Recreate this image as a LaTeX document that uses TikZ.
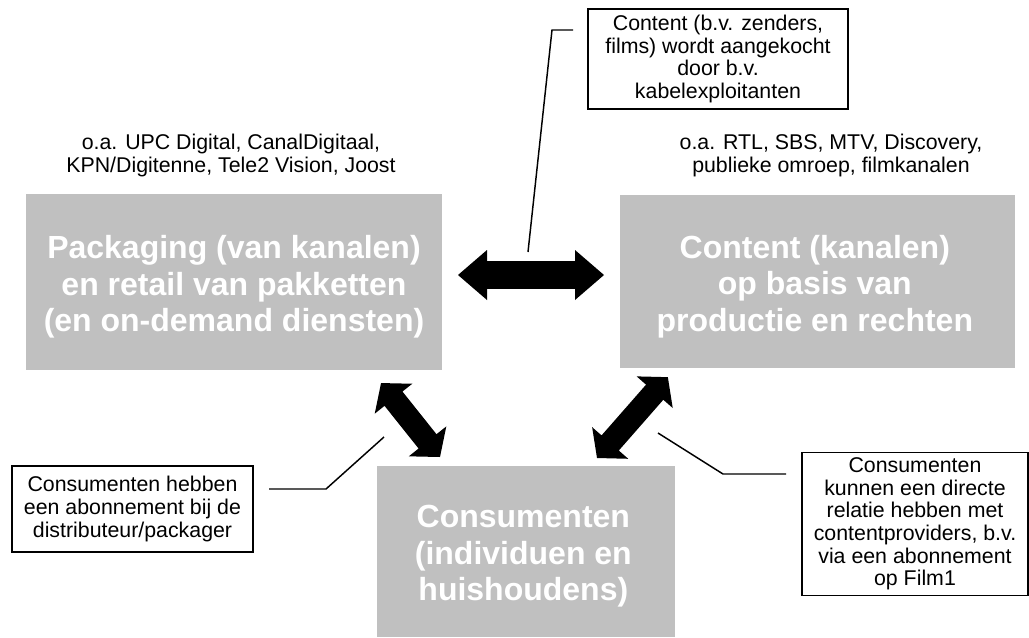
\documentclass[tikz,border=0pt]{standalone}
\usepackage{fontspec}
\setmainfont{Liberation Sans}
\usetikzlibrary{calc}
\definecolor{boxgray}{RGB}{192,192,192}
% block double arrow from #1 to #2 (tip to tip); #3 shaft half width, #4 head half width, #5 head length (pt)
\newcommand{\blockarrow}[5]{%
  \path let \p1=(#1), \p2=(#2), \n1={atan2(\y2-\y1,\x2-\x1)}, \n2={veclen(\x2-\x1,\y2-\y1)} in
    \pgfextra{\xdef\baang{\n1}\xdef\balen{\n2}\xdef\bax{\x1}\xdef\bay{\y1}};
  \begin{scope}[shift={(\bax,\bay)}, rotate=\baang, x=1pt, y=1pt]
    \fill[blockfill] (0,0) -- (#5,#4) -- (#5,#3) -- ({\balen-#5},#3) -- ({\balen-#5},#4) -- (\balen,0)
      -- ({\balen-#5},-#4) -- ({\balen-#5},-#3) -- (#5,-#3) -- (#5,-#4) -- cycle;
  \end{scope}}
\tikzset{
  bigbox/.style={fill=boxgray, inner sep=0pt},
  bigtext/.style={text=white, font=\fontsize{24}{27.3}\selectfont\bfseries, align=center, inner sep=0pt, yshift=-3.75pt},
  callout/.style={draw=black, line width=1.3pt, fill=white, font=\fontsize{16}{17}\selectfont, align=center, inner sep=0pt},
  infotext/.style={font=\fontsize{16}{17.3}\selectfont, align=center, inner sep=0pt},
  leader/.style={line width=1.1pt, black},
  blockfill/.style={fill=black}
}
\begin{document}
\begin{tikzpicture}[x=0.75pt, y=-0.75pt]
\useasboundingbox[fill=white] (0,0) rectangle (1029,637);

% main boxes
\node[bigbox, minimum width=312pt, minimum height=132pt,
  label={[bigtext]center:{Packaging (van kanalen)\\en retail van pakketten\\(en on-demand diensten)}}] (pack) at (234,282) {};
\node[bigbox, minimum width=296.25pt, minimum height=129.75pt,
  label={[bigtext, xshift=-2pt]center:{Content (kanalen)\\op basis van\\productie en rechten}}] (cont) at (817.5,281.5) {};
\node[bigbox, minimum width=223.5pt, minimum height=128.25pt,
  label={[bigtext, xshift=-2pt]center:{Consumenten\\(individuen en\\huishoudens)}}] (cons) at (526,551.5) {};

% texts above boxes
\node[infotext] (lab1) at (231,155.5) {o.a. UPC Digital, CanalDigitaal,\\KPN/Digitenne, Tele2 Vision, Joost};
\node[infotext] (lab2) at (831,155.5) {o.a. RTL, SBS, MTV, Discovery,\\publieke omroep, filmkanalen};

% callouts
\node[callout, minimum width=195pt, minimum height=75pt] (ctop) at (718,59)
  {Content (b.v. zenders,\\films) wordt aangekocht\\door b.v.\\kabelexploitanten};
\node[callout, minimum width=180.75pt, minimum height=64.5pt] (cleft) at (132.5,509)
  {Consumenten hebben\\een abonnement bij de\\distributeur/packager};
\node[callout, minimum width=169.5pt, minimum height=107.25pt] (cright) at (915,524)
  {Consumenten\\kunnen een directe\\relatie hebben met\\contentproviders, b.v.\\via een abonnement\\op Film1};

% block arrows
\coordinate (hA) at (458,275);
\coordinate (hB) at (604,275);
\coordinate (lA) at (440,457);
\coordinate (lB) at (381,383);
\coordinate (rA) at (597,458);
\coordinate (rB) at (668,377);
\blockarrow{hA}{hB}{10.4}{18.75}{21.75}
\blockarrow{lA}{lB}{8.6}{18}{15}
\blockarrow{rA}{rB}{8.6}{18}{15}

% leader lines
\coordinate (t1) at (528,252);
\coordinate (t2) at (552,30);
\coordinate (t3) at (573,30);
\draw[leader] (t1) -- (t2) -- (t3);
\coordinate (l1) at (384,437);
\coordinate (l2) at (326,489);
\coordinate (l3) at (269,489);
\draw[leader] (l1) -- (l2) -- (l3);
\coordinate (r1) at (658,433);
\coordinate (r2) at (723,474);
\coordinate (r3) at (786,474);
\draw[leader] (r1) -- (r2) -- (r3);
\end{tikzpicture}
\end{document}
